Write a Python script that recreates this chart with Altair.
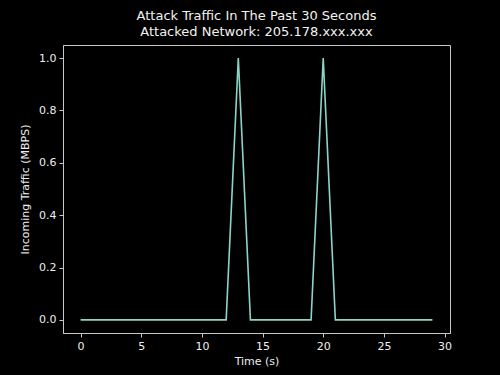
import altair as alt
import pandas as pd

times = list(range(30))
traffic = [0, 0, 0, 0, 0, 0, 0, 0, 0, 0, 0, 0, 0, 1, 0, 0, 0, 0, 0, 0, 1, 0, 0, 0, 0, 0, 0, 0, 0, 0]
x_ticks = [0, 5, 10, 15, 20, 25, 30]
y_ticks = [0.0, 0.2, 0.4, 0.6, 0.8, 1.0]

df = pd.DataFrame({"t": times, "v": traffic})

FONT = "DejaVu Sans"

chart = alt.Chart(df).mark_line(color="#8dd3c7", strokeWidth=1.6, clip=True).encode(
    x=alt.X("t:Q", scale=alt.Scale(domain=[-1.45, 30.45], nice=False, zero=False),
            axis=alt.Axis(values=x_ticks, title="Time (s)", format="d", grid=False)),
    y=alt.Y("v:Q", scale=alt.Scale(domain=[-0.05, 1.05], nice=False, zero=False),
            axis=alt.Axis(values=y_ticks, title="Incoming Traffic (MBPS)", format=".1f", grid=False)),
).properties(
    width=387, height=288,
    title=alt.TitleParams(["Attack Traffic In The Past 30 Seconds", "Attacked Network: 205.178.xxx.xxx"],
                          font=FONT, fontSize=13, fontWeight="normal", color="#f2f2f2",
                          lineHeight=16, offset=6, anchor="middle"),
    autosize=alt.AutoSizeParams(type="none"),
    padding={"left": 63, "top": 45, "right": 50, "bottom": 42},
    background="black",
).configure_view(
    stroke="#c8c8c8", strokeWidth=1, fill="black"
).configure_axis(
    labelFont=FONT, titleFont=FONT, labelFontSize=11, titleFontSize=11,
    labelColor="#eeeeee", titleColor="#eeeeee", titleFontWeight="normal",
    domainColor="#c8c8c8", tickColor="#c8c8c8", tickSize=4, labelPadding=3,
    domainWidth=1, tickWidth=1,
).configure_axisX(titlePadding=4).configure_axisY(titlePadding=8)

chart.save("out.html", embed_options={"renderer": "svg", "actions": False})
